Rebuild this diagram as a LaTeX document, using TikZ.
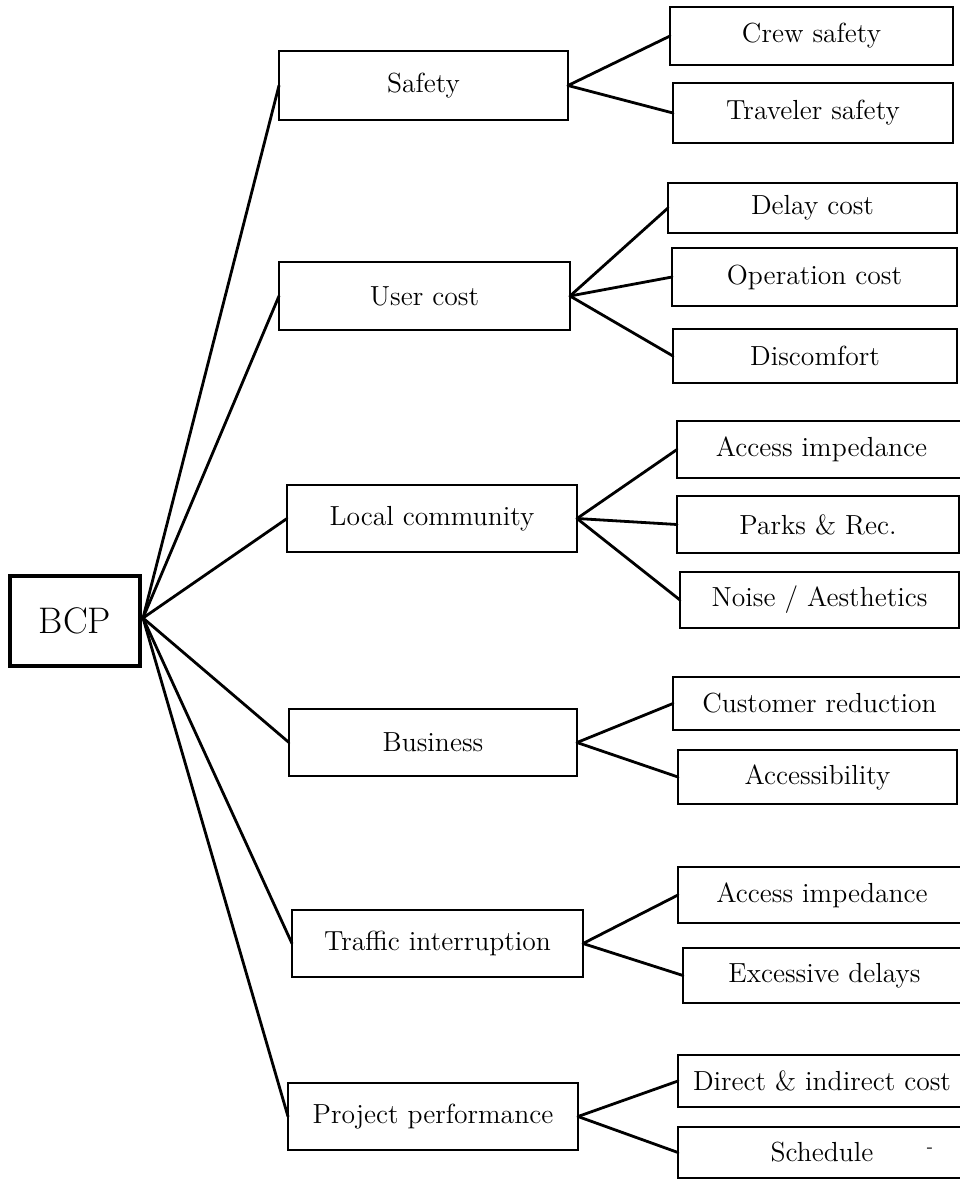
\documentclass[tikz,border=0pt]{standalone}
\newcommand\boxnode[7][]{\node[bx,#1,minimum width={(#5-#3)*0.5pt},minimum height={(#6-#4)*0.5pt}] (#2) at ({(#3+#5)/2},{(#4+#6)/2}) {#7};}
\begin{document}
\begin{tikzpicture}[x=0.5pt,y=-0.5pt,
  bx/.style={draw,line width=1.15pt,inner sep=0pt,outer sep=0pt,font=\fontsize{13.8}{16}\selectfont},
  root/.style={line width=1.9pt,font=\fontsize{18.5}{22}\selectfont},
  conn/.style={line width=1.4pt,line cap=round}]
\useasboundingbox (0,0) rectangle (960,1180);
\clip (0,0) rectangle (960,1180);
% root
\boxnode[root]{bcp}{10}{576}{140}{666}{BCP}
% level 1
\boxnode{saf}{279}{51}{568}{120}{Safety}
\boxnode{uc}{279}{262}{570}{330}{User cost}
\boxnode{lc}{287}{485}{577}{552}{Local community}
\boxnode{bus}{289}{709}{577}{776}{Business}
\boxnode{ti}{292}{910}{583}{977}{Traffic interruption}
\boxnode{pp}{288}{1083}{578}{1150}{Project performance}
% level 2
\boxnode{crew}{670}{7}{953}{65}{Crew safety}
\boxnode{trav}{673}{83}{953}{143}{Traveler safety}
\boxnode{delay}{668}{183}{957}{233}{Delay cost}
\boxnode{oper}{672}{248}{957}{306}{Operation cost}
\boxnode{disc}{673}{329}{957}{383}{Discomfort}
\boxnode{acc}{677}{421}{966}{478}{Access impedance}
\boxnode{parks}{677}{496}{959}{553}{Parks \& Rec.}
\boxnode{noise}{680}{572}{959}{628}{Noise / Aesthetics}
\boxnode{cust}{673}{677}{966}{730}{Customer reduction}
\boxnode{acs}{678}{750}{957}{804}{Accessibility}
\boxnode{acct}{678}{867}{966}{923}{Access impedance}
\boxnode{exc}{683}{948}{966}{1003}{Excessive delays}
\boxnode{dir}{678}{1055}{966}{1107}{Direct \& indirect cost}
\boxnode{sch}{678}{1127}{966}{1178}{Schedule}
\node[font=\small,inner sep=0pt] (speck) at (930,1150) {-};
% connectors from root
\coordinate (hub) at (143,618);
\foreach \t in {saf,uc,lc,bus,ti,pp} \draw[conn] (hub) -- (\t.west);
% level-1 to level-2
\draw[conn] (saf.east) -- (crew.west);
\draw[conn] (saf.east) -- (trav.west);
\draw[conn] (uc.east) -- (delay.west);
\draw[conn] (uc.east) -- (oper.west);
\draw[conn] (uc.east) -- (disc.west);
\draw[conn] (lc.east) -- (acc.west);
\draw[conn] (lc.east) -- (parks.west);
\draw[conn] (lc.east) -- (noise.west);
\draw[conn] (bus.east) -- (cust.west);
\draw[conn] (bus.east) -- (acs.west);
\draw[conn] (ti.east) -- (acct.west);
\draw[conn] (ti.east) -- (exc.west);
\draw[conn] (pp.east) -- (dir.west);
\draw[conn] (pp.east) -- (sch.west);
\end{tikzpicture}
\end{document}
